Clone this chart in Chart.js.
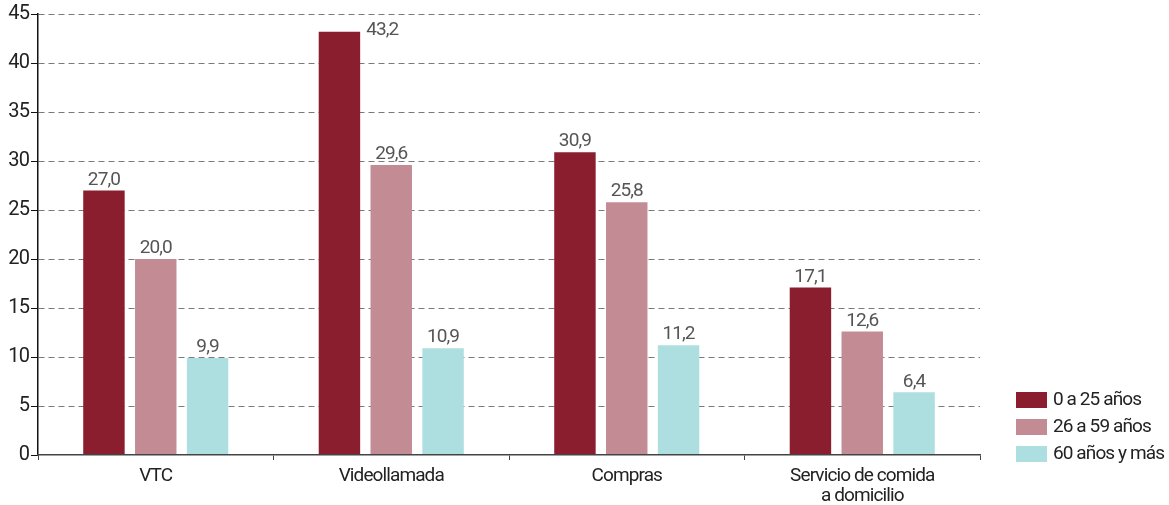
<!DOCTYPE html>
<html>
<head>
<meta charset="utf-8">
<script src="https://cdn.jsdelivr.net/npm/chart.js@4/dist/chart.umd.min.js"></script>
<style>
  body { margin: 0; background: #fff; }
  #wrap { width: 1169px; height: 505px; position: relative; }
</style>
</head>
<body>
<div id="wrap"><canvas id="grafico"></canvas></div>
<script>
const categorias = ['VTC', 'Videollamada', 'Compras', ['Servicio de comida', 'a domicilio']];
const edades = ['0 a 25 años', '26 a 59 años', '60 años y más'];
const jovenes = [27.0, 43.2, 30.9, 17.1];
const adultos = [20.0, 29.6, 25.8, 12.6];
const mayores = [9.9, 10.9, 11.2, 6.4];
const colores = ['#8a1e2f', '#c38c94', '#aedfe0'];
const yTicks = [0, 5, 10, 15, 20, 25, 30, 35, 40, 45];

const fuente = "'Roboto', sans-serif";
Chart.defaults.font.family = fuente;

// letra más estrecha para todo el lienzo
const estrecha = {
  id: 'estrecha',
  beforeDraw(chart) { chart.ctx.letterSpacing = '-0.9px'; }
};

// etiquetas de valor con coma decimal
const etiquetas = {
  id: 'etiquetas',
  afterDatasetsDraw(chart) {
    const ctx = chart.ctx;
    ctx.save();
    ctx.font = '19px ' + fuente;
    ctx.fillStyle = '#555';
    chart.data.datasets.forEach((ds, i) => {
      chart.getDatasetMeta(i).data.forEach((bar, j) => {
        const txt = ds.data[j].toFixed(1).replace('.', ',');
        if (ds.data[j] > 40) {
          // no cabe encima: a la derecha de la barra
          ctx.textAlign = 'left';
          ctx.textBaseline = 'middle';
          ctx.fillText(txt, bar.x + bar.width / 2 + 6, bar.y - 1);
        } else {
          ctx.textAlign = 'center';
          ctx.textBaseline = 'bottom';
          ctx.fillText(txt, bar.x, bar.y - 1);
        }
      });
    });
    ctx.restore();
  }
};

// leyenda abajo a la derecha
const leyenda = {
  id: 'leyenda',
  afterDraw(chart) {
    const ctx = chart.ctx;
    ctx.save();
    ctx.font = '19px ' + fuente;
    ctx.textAlign = 'left';
    ctx.textBaseline = 'middle';
    chart.data.datasets.forEach((ds, i) => {
      const y = 392 + i * 27;
      ctx.fillStyle = ds.backgroundColor;
      ctx.fillRect(1016, y, 31, 16);
      ctx.fillStyle = '#222';
      ctx.fillText(ds.label, 1053, y + 8.5);
    });
    ctx.restore();
  }
};

new Chart(document.getElementById('grafico'), {
  type: 'bar',
  data: {
    labels: categorias,
    datasets: [
      { label: edades[0], data: jovenes, backgroundColor: colores[0] },
      { label: edades[1], data: adultos, backgroundColor: colores[1] },
      { label: edades[2], data: mayores, backgroundColor: colores[2] }
    ]
  },
  options: {
    responsive: true,
    maintainAspectRatio: false,
    animation: false,
    layout: { padding: { top: 4, right: 189, left: 0, bottom: 0 } },
    datasets: {
      bar: { categoryPercentage: 0.66, barPercentage: 0.8, borderWidth: 0 }
    },
    plugins: {
      legend: { display: false },
      tooltip: { enabled: false }
    },
    scales: {
      x: {
        grid: { drawOnChartArea: false, offset: true, tickLength: 5, color: '#444' },
        border: { color: '#444', width: 1.5, z: 1 },
        ticks: { color: '#222', font: { size: 19, lineHeight: 1.05 }, padding: 6 },
        afterFit(axis) { axis.height = 50; }
      },
      y: {
        min: 0,
        max: 45,
        afterBuildTicks(axis) { axis.ticks = yTicks.map(v => ({ value: v })); },
        grid: {
          color: ctx => ctx.tick && ctx.tick.value === 0 ? 'rgba(0,0,0,0)' : '#7a7a7a',
          tickColor: '#111', tickLength: 7, lineWidth: 1, tickBorderDash: []
        },
        border: { color: '#111', width: 1.5, dash: [6, 4] },
        ticks: { color: '#222', font: { size: 20 }, padding: 2 },
        afterFit(axis) { axis.width = 38; }
      }
    }
  },
  plugins: [estrecha, etiquetas, leyenda]
});
</script>
</body>
</html>
